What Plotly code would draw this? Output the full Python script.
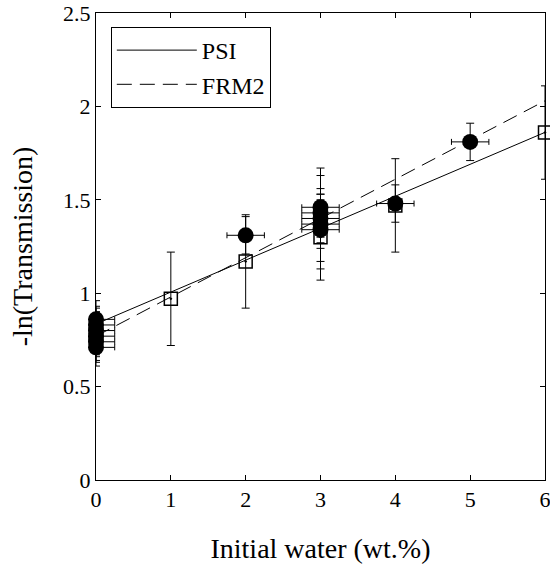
import plotly.graph_objects as go

# PSI measurements (open squares)
psi_x = [0, 0, 0, 1, 2, 3, 3, 3, 4, 6]
psi_y = [0.75, 0.78, 0.80, 0.97, 1.17, 1.30, 1.38, 1.42, 1.47, 1.86]
psi_yerr = [0.12, 0.12, 0.12, 0.25, 0.25, 0.23, 0.25, 0.25, 0.25, 0.25]

# FRM2 measurements (filled circles)
frm2_x = [0, 0, 0, 0, 0, 0, 2, 3, 3, 3, 3, 3, 4, 5]
frm2_y = [0.71, 0.74, 0.77, 0.80, 0.83, 0.86, 1.31, 1.34, 1.37, 1.40, 1.43, 1.46, 1.48, 1.81]
frm2_yerr = [0.1] * len(frm2_x)
frm2_xerr = [0.25] * len(frm2_x)

# Linear fits (end points)
fit_x = [0, 6]
psi_fit = [0.835, 1.861]
frm2_fit = [0.77, 2.03]

x_ticks = [0, 1, 2, 3, 4, 5, 6]
y_ticks = [0, 0.5, 1, 1.5, 2, 2.5]
y_ticklabels = ["0", "0.5", "1", "1.5", "2", "2.5"]

FONT = "Liberation Serif, Times New Roman, serif"

fig = go.Figure()

fig.add_trace(go.Scatter(
    x=fit_x, y=psi_fit, mode="lines", name="PSI",
    line=dict(color="black", width=1),
))
fig.add_trace(go.Scatter(
    x=fit_x, y=frm2_fit, mode="lines", name="FRM2",
    line=dict(color="black", width=1, dash="15px,8px"),
))

fig.add_trace(go.Scatter(
    x=psi_x, y=psi_y, mode="markers", showlegend=False,
    marker=dict(symbol="square-open-dot", size=13, color="black",
                line=dict(color="black", width=1.5)),
    error_y=dict(type="data", array=psi_yerr, visible=True,
                 color="black", thickness=1, width=4),
    cliponaxis=False,
))
fig.add_trace(go.Scatter(
    x=frm2_x, y=frm2_y, mode="markers", showlegend=False,
    marker=dict(symbol="circle", size=16, color="black"),
    error_y=dict(type="data", array=frm2_yerr, visible=True,
                 color="black", thickness=1, width=4),
    error_x=dict(type="data", array=frm2_xerr, visible=True,
                 color="black", thickness=1, width=3),
    cliponaxis=False,
))

axis_common = dict(
    showline=True, linecolor="black", linewidth=1, mirror="ticks",
    ticks="inside", ticklen=5, tickcolor="black", tickwidth=1,
    showgrid=False, zeroline=False, ticklabeloverflow="allow",
    automargin=False,
    tickfont=dict(family=FONT, size=22, color="black"),
)

fig.update_layout(
    width=550, height=574,
    margin=dict(l=96, r=5, t=13, b=94),
    paper_bgcolor="white", plot_bgcolor="white",
    font=dict(family=FONT, color="black"),
    xaxis=dict(range=[0, 6], tickvals=x_ticks,
               title=dict(text="Initial water (wt.%)", font=dict(family=FONT, size=28), standoff=26),
               **axis_common),
    yaxis=dict(range=[0, 2.5], tickvals=y_ticks, ticktext=y_ticklabels,
               title=dict(text="-ln(Transmission)", font=dict(family=FONT, size=28), standoff=22),
               **axis_common),
    legend=dict(x=0.033, y=0.97, xanchor="left", yanchor="top",
                bordercolor="black", borderwidth=1, bgcolor="white",
                font=dict(family=FONT, size=24, color="black"),
                itemwidth=80, tracegroupgap=0),
)

fig.write_html("out.html", config={"displayModeBar": False},
               post_script="document.body.style.margin='0';")
